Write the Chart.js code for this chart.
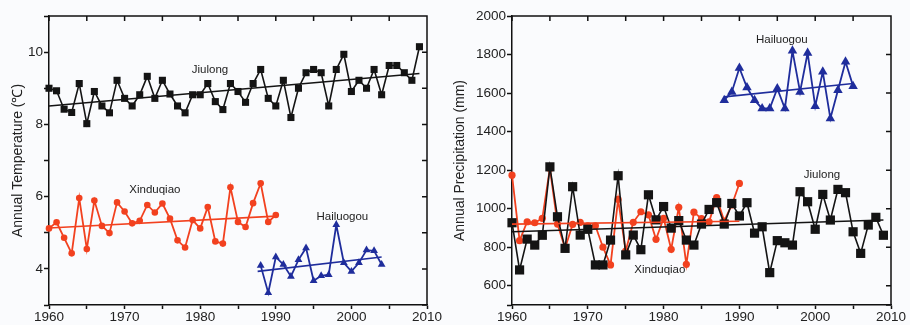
<!DOCTYPE html>
<html>
<head>
<meta charset="utf-8">
<script src="https://cdn.jsdelivr.net/npm/chart.js@4.4.1/dist/chart.umd.min.js"></script>
<style>
  body { margin: 0; background: #fafbfd; }
  canvas { position: absolute; top: 0; }
  #tempChart { left: 0; }
  #precChart { left: 450px; }
</style>
</head>
<body>
<canvas id="tempChart" width="450" height="325"></canvas>
<canvas id="precChart" width="460" height="325"></canvas>
<script>
// years
const yearsJiulong = [1960, 1961, 1962, 1963, 1964, 1965, 1966, 1967, 1968, 1969,
  1970, 1971, 1972, 1973, 1974, 1975, 1976, 1977, 1978, 1979,
  1980, 1981, 1982, 1983, 1984, 1985, 1986, 1987, 1988, 1989,
  1990, 1991, 1992, 1993, 1994, 1995, 1996, 1997, 1998, 1999,
  2000, 2001, 2002, 2003, 2004, 2005, 2006, 2007, 2008, 2009];
const yearsXinduqiao = [1960, 1961, 1962, 1963, 1964, 1965, 1966, 1967, 1968, 1969,
  1970, 1971, 1972, 1973, 1974, 1975, 1976, 1977, 1978, 1979,
  1980, 1981, 1982, 1983, 1984, 1985, 1986, 1987, 1988, 1989, 1990];
const yearsHailuogouTemp = [1988, 1989, 1990, 1991, 1992, 1993, 1994, 1995, 1996,
  1997, 1998, 1999, 2000, 2001, 2002, 2003, 2004];
const yearsHailuogouPrec = [1988, 1989, 1990, 1991, 1992, 1993, 1994, 1995, 1996,
  1997, 1998, 1999, 2000, 2001, 2002, 2003, 2004, 2005];

// annual temperature (C)
const tempJiulong = [9.0, 8.93, 8.42, 8.33, 9.13, 8.02, 8.91, 8.51, 8.32, 9.22,
  8.72, 8.51, 8.82, 9.33, 8.72, 9.22, 8.84, 8.51, 8.32, 8.82,
  8.82, 9.13, 8.63, 8.41, 9.13, 8.91, 8.61, 9.13, 9.52, 8.72,
  8.51, 9.22, 8.19, 9.0, 9.43, 9.52, 9.43, 8.51, 9.52, 9.94,
  8.91, 9.22, 9.0, 9.52, 8.82, 9.63, 9.63, 9.43, 9.22, 10.15];
const tempXinduqiao = [5.12, 5.29, 4.86, 4.43, 5.96, 4.55, 5.89, 5.19, 4.99, 5.84,
  5.59, 5.26, 5.33, 5.77, 5.56, 5.81, 5.39, 4.79, 4.59, 5.35,
  5.12, 5.71, 4.76, 4.70, 6.26, 5.30, 5.16, 5.82, 6.37, 5.30, 5.49];
const tempHailuogou = [4.09, 3.34, 4.33, 4.12, 3.79, 4.25, 4.58, 3.67, 3.81,
  3.84, 5.22, 4.17, 3.93, 4.17, 4.52, 4.50, 4.12];

// annual precipitation (mm)
const precJiulong = [927, 682, 842, 811, 862, 1217, 958, 794, 1114, 863,
  893, 708, 708, 837, 1171, 760, 863, 787, 1072, 942,
  1011, 899, 938, 837, 811, 920, 996, 1031, 920, 1027,
  962, 1031, 873, 906, 668, 834, 823, 811, 1088, 1036,
  893, 1074, 941, 1100, 1083, 880, 768, 915, 955, 862];
const precXinduqiao = [1174, 834, 932, 927, 950, 1209, 920, 794, 918, 929,
  911, 911, 800, 708, 1048, 780, 929, 984, 968, 841,
  950, 789, 1007, 711, 982, 948, 932, 1057, 936, 1019, 1131];
const precHailuogou = [1563, 1606, 1730, 1629, 1563, 1520, 1520, 1624, 1520,
  1819, 1606, 1808, 1532, 1710, 1468, 1615, 1762, 1636];

// linear trend end points
const trendTempJiulong = [[1960, 8.51], [2009, 9.41]];
const trendTempXinduqiao = [[1960, 5.13], [1990, 5.46]];
const trendTempHailuogou = [[1987.6, 3.93], [2004, 4.33]];
const trendPrecJiulong = [[1960, 880], [2009, 941]];
const trendPrecXinduqiao = [[1960, 920], [1990, 935]];
const trendPrecHailuogou = [[1988, 1580], [2005, 1650]];

// station labels
const tempLabels = [["Jiulong", 1981.3, 9.52], ["Xinduqiao", 1974, 6.2], ["Hailuogou", 1998.8, 5.45]];
const precLabels = [["Hailuogou", 1995.6, 1874], ["Jiulong", 2000.9, 1174], ["Xinduqiao", 1979.5, 682]];

const BLACK = "#141414", RED = "#f2411f", BLUE = "#1f2d9c";
const FONT = "'Liberation Sans', Arial, sans-serif";

function pts(xs, ys) { return xs.map((x, i) => ({ x: x, y: ys[i] })); }

function series(xs, ys, color, style, r, w) {
  return {
    data: pts(xs, ys), borderColor: color, backgroundColor: color,
    borderWidth: w, pointStyle: style, pointRadius: r, pointHoverRadius: r,
    pointBorderWidth: 0, tension: 0, clip: false
  };
}

function trend(p, color) {
  return {
    data: p.map(d => ({ x: d[0], y: d[1] })), borderColor: color,
    borderWidth: 1.6, pointRadius: 0, clip: false
  };
}

// mirrored inward ticks on top and right, plus frame, plus station labels
const framePlugin = {
  id: "frame",
  afterDraw(chart, args, opts) {
    const ctx = chart.ctx, a = chart.chartArea;
    const xs = chart.scales.x, ys = chart.scales.y;
    ctx.save();
    ctx.strokeStyle = "#111";
    ctx.lineWidth = 1.5;
    ctx.beginPath();
    ctx.moveTo(a.left, a.top); ctx.lineTo(a.right, a.top); ctx.lineTo(a.right, a.bottom);
    xs.ticks.forEach(t => {
      const px = xs.getPixelForValue(t.value);
      ctx.moveTo(px, a.top); ctx.lineTo(px, a.top + 5);
    });
    ys.ticks.forEach(t => {
      const py = ys.getPixelForValue(t.value);
      ctx.moveTo(a.right, py); ctx.lineTo(a.right - 5, py);
    });
    ctx.stroke();
    ctx.fillStyle = "#222";
    ctx.font = "11.5px " + FONT;
    ctx.textAlign = "center";
    ctx.textBaseline = "middle";
    opts.labels.forEach(l => {
      ctx.fillText(l[0], xs.getPixelForValue(l[1]), ys.getPixelForValue(l[2]));
    });
    ctx.restore();
  }
};

function makeChart(id, datasets, yOpts, labels, yWidth, titlePad, rightPad) {
  return new Chart(document.getElementById(id), {
    type: "line",
    data: { datasets: datasets },
    plugins: [framePlugin],
    options: {
      responsive: false,
      animation: false,
      layout: { padding: { top: 16, right: rightPad, left: 0, bottom: 0 } },
      plugins: { legend: { display: false }, tooltip: { enabled: false }, frame: { labels: labels } },
      scales: {
        x: {
          type: "linear", min: 1960, max: 2010,
          afterFit: s => { s.height = 20; },
          ticks: {
            stepSize: 5, autoSkip: false, maxRotation: 0, padding: 0,
            color: "#222", font: { family: FONT, size: 13.5 },
            callback: v => (v % 10 === 0 ? String(v) : "")
          },
          grid: { drawOnChartArea: false, tickLength: 4, color: "#111", tickWidth: 1.5 },
          border: { color: "#111", width: 1.5 }
        },
        y: {
          min: yOpts.min, max: yOpts.max,
          afterFit: s => { s.width = yWidth; },
          ticks: {
            stepSize: yOpts.step, autoSkip: false, padding: 1,
            color: "#222", font: { family: FONT, size: 13.5 },
            callback: yOpts.cb
          },
          grid: { drawOnChartArea: false, tickLength: 5, color: "#111", tickWidth: 1.5 },
          border: { color: "#111", width: 1.5 },
          title: {
            display: true, text: yOpts.title, color: "#222",
            font: { family: FONT, size: 14 }, padding: titlePad
          }
        }
      }
    }
  });
}

makeChart("tempChart", [
  trend(trendTempJiulong, BLACK),
  trend(trendTempXinduqiao, RED),
  trend(trendTempHailuogou, BLUE),
  series(yearsJiulong, tempJiulong, BLACK, "rect", 5, 1.6),
  series(yearsXinduqiao, tempXinduqiao, RED, "circle", 3.3, 1.8),
  series(yearsHailuogouTemp, tempHailuogou, BLUE, "triangle", 4.5, 1.8)
], { min: 3, max: 11, step: 1, cb: v => (v % 2 === 0 ? String(v) : ""), title: "Annual Temperature (\u2103)" },
  tempLabels, 49, { top: 10, bottom: 0 }, 23);

makeChart("precChart", [
  trend(trendPrecJiulong, BLACK),
  trend(trendPrecXinduqiao, RED),
  trend(trendPrecHailuogou, BLUE),
  series(yearsJiulong, precJiulong, BLACK, "rect", 6.5, 1.6),
  series(yearsXinduqiao, precXinduqiao, RED, "circle", 3.6, 1.8),
  series(yearsHailuogouPrec, precHailuogou, BLUE, "triangle", 5.5, 1.8)
], { min: 500, max: 2000, step: 200, cb: v => (v >= 600 ? String(v) : ""), title: "Annual Precipitation (mm)" },
  precLabels, 62, { top: 2, bottom: 0 }, 19);
</script>
</body>
</html>
